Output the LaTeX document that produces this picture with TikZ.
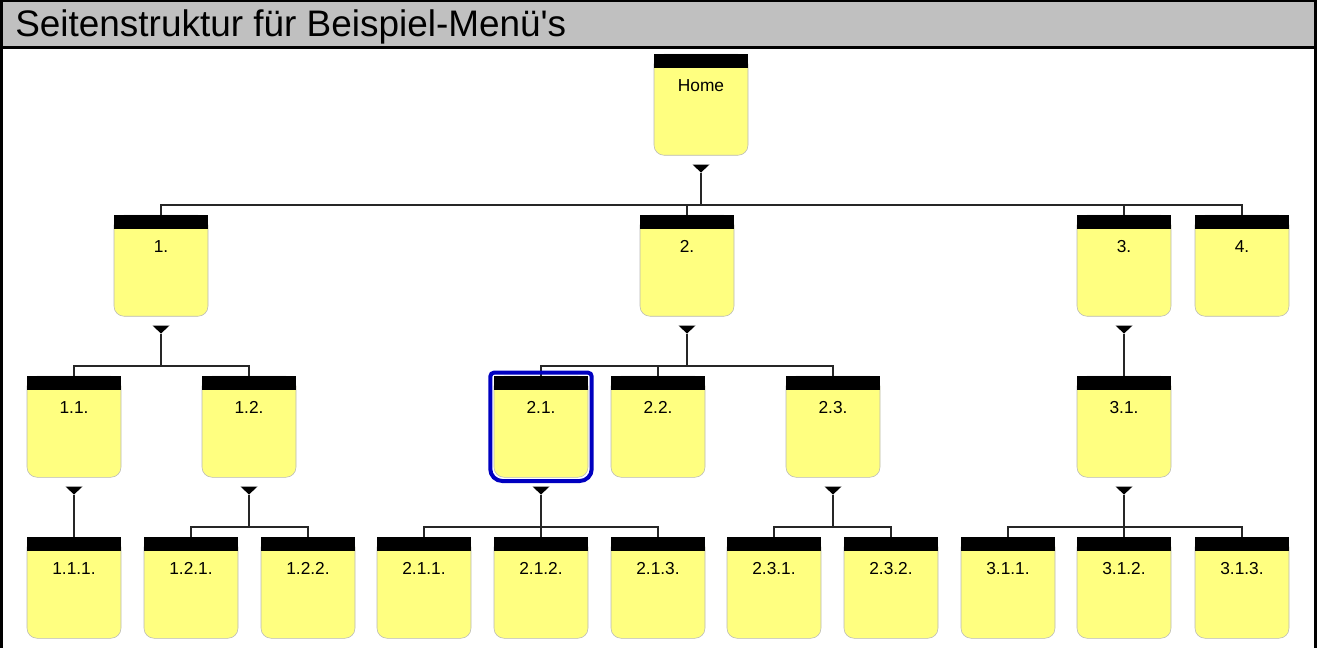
\documentclass[tikz,border=0pt]{standalone}
\usepackage{fontspec}
\newfontfamily\diagfont{Liberation Sans}
\definecolor{titlegray}{HTML}{C0C0C0}
\definecolor{pageyellow}{HTML}{FFFF80}
\definecolor{pageedge}{HTML}{B8B8B8}
\definecolor{selblue}{HTML}{0000C0}

\begin{document}
\begin{tikzpicture}[
    x=0.75pt, y=-0.75pt,
    page/.style={draw=pageedge, fill=pageyellow, rounded corners=7.5pt,
                 anchor=north, minimum width=70.5pt, inner sep=0pt,
                 text height=27.75pt, text depth=48pt,
                 font=\diagfont\fontsize{13}{15}\selectfont},
    link/.style={draw=black!85, line width=0.9pt},
    selbox/.style={draw=selblue, line width=3pt}
  ]
  \useasboundingbox (0,0) rectangle (1317,648);

  % Title bar
  \fill[titlegray] (0,0) rectangle (1317,47);
  \node[anchor=base west, inner sep=0pt,
        font=\diagfont\fontsize{27.7}{33}\selectfont] (title) at (15,37)
    {Seitenstruktur für Beispiel-Menü's};
  \draw[line width=2.25pt] (0,47.5) -- (1317,47.5);
  \draw[line width=2.25pt] (1.5,648) -- (1.5,1) -- (1315.5,1) -- (1315.5,648);

  % Level 0
  \node[page] (home) at (701,54) {Home};

  % Level 1
  \node[page] (p1) at (161,215) {1.};
  \node[page] (p2) at (687,215) {2.};
  \node[page] (p3) at (1124,215) {3.};
  \node[page] (p4) at (1242,215) {4.};

  % Level 2
  \node[page] (p11) at (74,376) {1.1.};
  \node[page] (p12) at (249,376) {1.2.};
  \node[page] (p21) at (541,376) {2.1.};
  \node[page] (p22) at (658,376) {2.2.};
  \node[page] (p23) at (833,376) {2.3.};
  \node[page] (p31) at (1124,376) {3.1.};

  % Level 3
  \node[page] (p111) at (74,537) {1.1.1.};
  \node[page] (p121) at (191,537) {1.2.1.};
  \node[page] (p122) at (308,537) {1.2.2.};
  \node[page] (p211) at (424,537) {2.1.1.};
  \node[page] (p212) at (541,537) {2.1.2.};
  \node[page] (p213) at (658,537) {2.1.3.};
  \node[page] (p231) at (774,537) {2.3.1.};
  \node[page] (p232) at (891,537) {2.3.2.};
  \node[page] (p311) at (1008,537) {3.1.1.};
  \node[page] (p312) at (1124,537) {3.1.2.};
  \node[page] (p313) at (1242,537) {3.1.3.};

  % Black page headers
  \foreach \n in {home,p1,p2,p3,p4,p11,p12,p21,p22,p23,p31,
                  p111,p121,p122,p211,p212,p213,p231,p232,p311,p312,p313}
    \fill (\n.north west) rectangle ([yshift=-10.5pt]\n.north east);

  % Expand markers
  \foreach \p in {home,p1,p2,p3,p11,p12,p21,p23,p31}
    \fill (\p.south) ++(-8.5,9) -- ++(17,0) -- ++(-8.5,8) -- cycle;

  % Tree links
  \foreach \p/\c in {home/p1,home/p2,home/p3,home/p4,
                     p1/p11,p1/p12,p2/p21,p2/p22,p2/p23,p3/p31,
                     p11/p111,p12/p121,p12/p122,p21/p211,p21/p212,p21/p213,
                     p23/p231,p23/p232,p31/p311,p31/p312,p31/p313}
    \draw[link] ([yshift=-12.75pt]\p.south) |- ([yshift=7.5pt]\c.north)
      -- (\c.north);

  % Selected page
  \draw[selbox] ([xshift=-2.6pt]p21.west) [rounded corners=3pt]
    |- ([yshift=2.6pt]p21.north) -| ([xshift=2.6pt]p21.east)
    [rounded corners=9pt] |- ([yshift=-2.6pt]p21.south)
    -| ([xshift=-2.6pt]p21.west) -- cycle;
\end{tikzpicture}
\end{document}
